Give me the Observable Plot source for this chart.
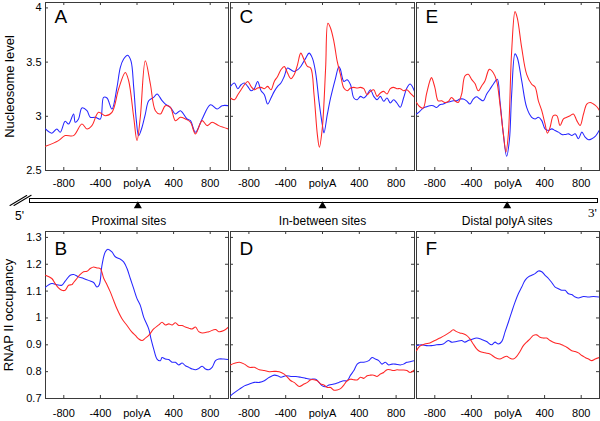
<!DOCTYPE html>
<html><head><meta charset="utf-8">
<script src="https://cdn.jsdelivr.net/npm/d3@7"></script>
<script src="https://cdn.jsdelivr.net/npm/@observablehq/plot@0.6"></script>
<style>
html,body{margin:0;padding:0;background:#fff;}
#fig{position:relative;width:600px;height:421px;overflow:hidden;background:#fff;}
#fig svg{position:absolute;overflow:visible;}
</style></head><body><div id="fig"></div>
<script>
// ---------- tick labels / categories ----------
const xTicks = [-800, -400, 0, 400, 800];
const nucTicks = [2.5, 3, 3.5, 4];
const rnapTicks = [0.7, 0.8, 0.9, 1, 1.1, 1.2, 1.3];
const topLetters = ["A", "C", "E"];
const bottomLetters = ["B", "D", "F"];
const sites = ["Proximal sites", "In-between sites", "Distal polyA sites"];
const nucLabel = "Nucleosome level";
const rnapLabel = "RNAP II occupancy";

// ---------- nucleosome level (top row), [position bp, value] ----------
const nucProximalBlue = [[-1000,2.883],[-931,2.844],[-876,2.883],[-839,2.853],[-785,2.954],[-748,2.929],[-693,3.021],[-675,2.945],[-639,2.975],[-602,3.077],[-547,3.052],[-511,2.991],[-456,2.991],[-401,2.975],[-365,3.175],[-328,3.169],[-274,3.067],[-219,3.267],[-182,3.451],[-146,3.528],[-102,3.564],[-66,3.512],[-36,3.267],[-7,2.96],[18,2.822],[55,2.899],[91,3.021],[128,3.144],[182,3.175],[219,3.206],[274,3.144],[310,3.113],[365,3.083],[420,3.021],[474,3.052],[547,2.975],[584,2.96],[639,2.853],[712,2.975],[803,3.107],[876,3.067],[931,3.098],[1000,3.098]];
const nucProximalRed = [[-1000,2.724],[-858,2.776],[-785,2.822],[-693,2.822],[-602,2.929],[-547,2.883],[-493,2.914],[-420,3.037],[-347,3.006],[-274,3.037],[-201,3.252],[-128,3.405],[-91,3.328],[-36,2.991],[0,2.776],[36,2.991],[91,3.512],[146,3.298],[201,3.052],[255,3.021],[310,3.098],[365,3.083],[420,2.96],[474,2.991],[529,2.975],[584,2.945],[639,2.837],[712,2.96],[766,2.914],[821,2.945],[894,2.914],[1000,2.883]];
const nucBetweenBlue = [[-1000,3.276],[-957,3.307],[-921,3.255],[-885,3.291],[-849,3.307],[-813,3.276],[-777,3.236],[-741,3.255],[-705,3.322],[-668,3.236],[-632,3.199],[-596,3.113],[-560,3.169],[-524,3.23],[-488,3.276],[-452,3.307],[-416,3.368],[-380,3.445],[-344,3.429],[-308,3.414],[-272,3.429],[-236,3.46],[-182,3.537],[-146,3.583],[-110,3.537],[-74,3.399],[-38,3.138],[-2,2.923],[16,2.847],[52,3.015],[88,3.169],[142,3.353],[178,3.46],[196,3.429],[232,3.322],[268,3.337],[305,3.291],[341,3.169],[377,3.153],[413,3.184],[449,3.169],[485,3.199],[521,3.245],[557,3.184],[593,3.153],[629,3.184],[665,3.138],[701,3.169],[737,3.123],[773,3.153],[809,3.123],[845,3.083],[881,3.169],[917,3.261],[953,3.298],[1000,3.23]];
const nucBetweenRed = [[-1000,3.169],[-957,3.153],[-921,3.199],[-885,3.245],[-849,3.291],[-813,3.322],[-777,3.276],[-741,3.245],[-705,3.261],[-668,3.267],[-632,3.255],[-596,3.276],[-560,3.245],[-524,3.322],[-488,3.368],[-452,3.429],[-416,3.46],[-380,3.399],[-344,3.347],[-308,3.383],[-272,3.475],[-236,3.583],[-200,3.521],[-164,3.46],[-128,3.445],[-92,3.199],[-56,2.831],[-34,2.715],[-2,2.893],[34,3.445],[59,3.859],[88,3.813],[124,3.69],[160,3.506],[196,3.383],[232,3.261],[268,3.236],[305,3.261],[341,3.267],[377,3.261],[413,3.267],[449,3.255],[485,3.199],[521,3.23],[557,3.245],[593,3.184],[629,3.215],[665,3.23],[701,3.206],[737,3.255],[773,3.267],[809,3.255],[845,3.255],[881,3.236],[917,3.245],[953,3.215],[1000,3.175]];
const nucDistalBlue = [[-1000,3.021],[-964,3.046],[-927,3.076],[-891,3.088],[-854,3.098],[-818,3.098],[-781,3.082],[-745,3.107],[-708,3.113],[-672,3.128],[-635,3.134],[-599,3.143],[-562,3.143],[-526,3.159],[-489,3.159],[-453,3.143],[-416,3.113],[-380,3.159],[-343,3.18],[-307,3.159],[-270,3.143],[-234,3.204],[-197,3.25],[-161,3.296],[-117,3.341],[-88,3.143],[-51,2.838],[-15,2.631],[15,2.777],[40,3.204],[77,3.576],[102,3.54],[150,3.326],[204,3.082],[259,2.991],[296,2.976],[332,2.991],[369,2.96],[405,2.884],[442,2.869],[478,2.884],[515,2.869],[551,2.854],[588,2.832],[624,2.832],[661,2.838],[697,2.823],[734,2.838],[770,2.793],[807,2.854],[843,2.808],[880,2.784],[916,2.793],[953,2.814],[1000,2.875]];
const nucDistalRed = [[-1000,3.128],[-964,3.088],[-927,3.076],[-891,3.204],[-854,3.326],[-836,3.357],[-799,3.265],[-763,3.143],[-726,3.143],[-690,3.128],[-653,3.137],[-617,3.174],[-580,3.143],[-544,3.128],[-507,3.204],[-471,3.372],[-434,3.387],[-398,3.341],[-361,3.302],[-325,3.235],[-288,3.28],[-252,3.326],[-204,3.433],[-161,3.402],[-124,3.326],[-88,3.113],[-51,2.838],[-22,2.671],[4,2.838],[40,3.601],[77,3.966],[102,3.905],[150,3.631],[204,3.387],[259,3.296],[296,3.271],[332,3.143],[369,3.052],[405,2.93],[431,2.845],[460,2.899],[496,3.006],[533,3.006],[569,2.915],[606,2.976],[642,2.991],[679,3.006],[715,3.021],[752,2.96],[788,2.915],[825,3.021],[861,3.113],[898,3.128],[934,3.113],[971,3.088],[1000,3.052]];

// ---------- RNAP II occupancy (bottom row) ----------
const rnapProximalBlue = [[-1000,1.115],[-931,1.128],[-876,1.124],[-821,1.122],[-785,1.137],[-730,1.159],[-693,1.162],[-639,1.153],[-584,1.147],[-529,1.14],[-474,1.132],[-438,1.115],[-412,1.124],[-383,1.196],[-347,1.246],[-318,1.256],[-274,1.246],[-237,1.228],[-182,1.219],[-146,1.209],[-109,1.184],[-73,1.147],[-36,1.109],[0,1.072],[36,1.047],[73,1.003],[128,0.959],[153,0.922],[182,0.885],[219,0.847],[255,0.841],[274,0.853],[310,0.847],[347,0.845],[383,0.835],[420,0.835],[456,0.825],[493,0.832],[529,0.822],[566,0.816],[602,0.81],[639,0.807],[675,0.812],[712,0.82],[748,0.81],[785,0.807],[821,0.816],[858,0.841],[894,0.847],[949,0.847],[1000,0.845]];
const rnapProximalRed = [[-1000,1.159],[-931,1.147],[-894,1.128],[-858,1.112],[-821,1.103],[-785,1.103],[-748,1.122],[-712,1.124],[-693,1.132],[-657,1.147],[-620,1.162],[-584,1.172],[-547,1.174],[-511,1.184],[-474,1.19],[-438,1.186],[-401,1.184],[-365,1.149],[-328,1.124],[-292,1.097],[-255,1.065],[-219,1.034],[-164,0.997],[-109,0.972],[-55,0.947],[-18,0.935],[18,0.922],[55,0.916],[91,0.925],[128,0.935],[182,0.959],[237,0.974],[274,0.984],[310,0.974],[347,0.978],[383,0.974],[420,0.982],[456,0.972],[493,0.972],[529,0.966],[566,0.962],[602,0.959],[639,0.966],[675,0.949],[712,0.944],[785,0.949],[858,0.957],[894,0.949],[949,0.953],[1000,0.966]];
const rnapBetweenBlue = [[-1000,0.71],[-957,0.722],[-903,0.735],[-849,0.747],[-795,0.754],[-741,0.76],[-686,0.76],[-632,0.766],[-578,0.779],[-524,0.787],[-488,0.785],[-452,0.779],[-398,0.785],[-344,0.782],[-290,0.782],[-236,0.779],[-182,0.775],[-128,0.772],[-74,0.772],[-38,0.76],[-2,0.747],[34,0.744],[70,0.75],[124,0.754],[178,0.76],[232,0.766],[268,0.766],[305,0.787],[341,0.804],[377,0.828],[413,0.835],[449,0.835],[503,0.841],[539,0.853],[575,0.847],[611,0.841],[647,0.828],[683,0.835],[719,0.825],[755,0.828],[791,0.828],[845,0.825],[881,0.828],[917,0.835],[953,0.837],[1000,0.841]];
const rnapBetweenRed = [[-1000,0.825],[-957,0.831],[-903,0.835],[-849,0.828],[-795,0.816],[-741,0.816],[-686,0.807],[-632,0.804],[-578,0.8],[-524,0.801],[-470,0.8],[-416,0.791],[-380,0.779],[-344,0.766],[-308,0.76],[-254,0.745],[-200,0.754],[-164,0.76],[-128,0.77],[-92,0.77],[-56,0.766],[-20,0.754],[16,0.75],[52,0.741],[88,0.741],[124,0.731],[160,0.732],[196,0.737],[232,0.75],[268,0.766],[305,0.772],[341,0.77],[377,0.769],[413,0.779],[449,0.775],[485,0.785],[521,0.787],[557,0.787],[593,0.782],[629,0.791],[665,0.797],[701,0.807],[737,0.807],[773,0.804],[809,0.807],[845,0.806],[881,0.806],[917,0.804],[953,0.797],[1000,0.807]];
const rnapDistalBlue = [[-1000,0.897],[-945,0.9],[-891,0.897],[-836,0.897],[-781,0.9],[-708,0.903],[-653,0.916],[-617,0.91],[-562,0.912],[-507,0.916],[-471,0.91],[-434,0.916],[-398,0.92],[-343,0.925],[-288,0.92],[-234,0.912],[-179,0.9],[-142,0.91],[-106,0.903],[-69,0.912],[-33,0.947],[4,0.984],[40,1.022],[77,1.059],[113,1.09],[150,1.115],[186,1.14],[223,1.153],[259,1.159],[296,1.165],[332,1.175],[369,1.172],[405,1.159],[442,1.147],[478,1.132],[515,1.115],[551,1.109],[588,1.103],[624,1.103],[661,1.09],[697,1.087],[734,1.078],[770,1.074],[825,1.08],[880,1.078],[934,1.08],[1000,1.078]];
const rnapDistalRed = [[-1000,0.878],[-964,0.895],[-909,0.903],[-854,0.907],[-799,0.916],[-745,0.925],[-690,0.935],[-635,0.947],[-599,0.956],[-562,0.949],[-526,0.944],[-489,0.941],[-453,0.935],[-416,0.922],[-380,0.903],[-343,0.885],[-307,0.875],[-252,0.87],[-197,0.866],[-142,0.853],[-88,0.847],[-51,0.853],[-15,0.857],[22,0.85],[58,0.847],[95,0.857],[131,0.875],[168,0.897],[204,0.91],[241,0.922],[277,0.935],[314,0.937],[350,0.928],[387,0.925],[423,0.925],[460,0.916],[515,0.907],[569,0.903],[606,0.897],[642,0.891],[697,0.878],[734,0.875],[770,0.87],[807,0.86],[843,0.853],[880,0.847],[916,0.841],[953,0.847],[1000,0.853]];

// ---------- layout & style ----------
const FONT = '"Liberation Sans", Arial, Helvetica, sans-serif';
const BLUE = "#2626ff", RED = "#ff2626", FRAME = "#3a3a3a";
const xDomain = [-1000, 1000];
const cols = [{left: 45, right: 228}, {left: 230, right: 414}, {left: 416, right: 599}];
const rows = [
  {top: 2, bottom: 170, domain: [2.5, 4.05], ticks: nucTicks, label: nucLabel, letters: topLetters, tickPad: 9, letterDy: 7, labelDx: -36,
   series: [[nucProximalBlue, nucProximalRed], [nucBetweenBlue, nucBetweenRed], [nucDistalBlue, nucDistalRed]]},
  {top: 231, bottom: 398, domain: [0.7, 1.322], ticks: rnapTicks, label: rnapLabel, letters: bottomLetters, tickPad: 11, letterDy: 10, labelDx: -37,
   series: [[rnapProximalBlue, rnapProximalRed], [rnapBetweenBlue, rnapBetweenRed], [rnapDistalBlue, rnapDistalRed]]}
];
const fmtX = d => d === 0 ? "polyA" : String(d);
const fmtY = d => String(d);
const fig = document.getElementById("fig");
const ml = 45, mr = 2, mt = 2, mb = 24;

function place(svg, left, top) {
  svg.style.left = left + "px";
  svg.style.top = top + "px";
  fig.appendChild(svg);
}

rows.forEach(row => {
  cols.forEach((col, ci) => {
    const W = col.right - col.left, H = row.bottom - row.top;
    const [blue, red] = row.series[ci];
    const marks = [
      Plot.frame({stroke: FRAME, strokeWidth: 1}),
      Plot.tickX(xTicks, {x: d => d, insetTop: H - 3, stroke: FRAME}),
      Plot.tickX(xTicks, {x: d => d, insetBottom: H - 3, stroke: FRAME}),
      Plot.tickY(row.ticks, {y: d => d, insetRight: W - 3, stroke: FRAME}),
      Plot.tickY(row.ticks, {y: d => d, insetLeft: W - 3, stroke: FRAME}),
      Plot.line(blue, {x: d => d[0], y: d => d[1], stroke: BLUE, strokeWidth: 1.05, curve: "catmull-rom", clip: true}),
      Plot.line(red, {x: d => d[0], y: d => d[1], stroke: RED, strokeWidth: 1.05, curve: "catmull-rom", clip: true}),
      Plot.axisX({ticks: xTicks, tickSize: 0, tickPadding: row.tickPad, tickFormat: fmtX, label: null, fill: "#000"}),
      Plot.text([row.letters[ci]], {frameAnchor: "top-left", dx: 9, dy: row.letterDy, textAnchor: "start", lineAnchor: "top", fontSize: 19, fill: "#000"})
    ];
    if (ci === 0) {
      marks.push(Plot.axisY({ticks: row.ticks, tickSize: 0, tickPadding: 4, tickFormat: fmtY, label: null, fill: "#000"}));
      marks.push(Plot.text([row.label], {frameAnchor: "left", rotate: -90, dx: row.labelDx, textAnchor: "middle", lineAnchor: "middle", fontSize: 13, fill: "#000"}));
    }
    const svg = Plot.plot({
      width: ml + W + mr, height: mt + H + mb,
      marginLeft: ml, marginRight: mr, marginTop: mt, marginBottom: mb,
      x: {domain: xDomain, axis: null},
      y: {domain: row.domain, axis: null},
      style: {fontFamily: FONT, fontSize: "11px", background: "transparent", color: "#000", overflow: "visible"},
      marks
    });
    place(svg, col.left - ml, row.top - mt);
  });
});

// ---------- gene schematic between rows ----------
const geneTop = 185;
const gene = Plot.plot({
  width: 600, height: 50,
  marginLeft: 45, marginRight: 1, marginTop: 13, marginBottom: 33,
  x: {domain: [-1000, 5000], axis: null},
  y: {axis: null},
  style: {fontFamily: FONT, fontSize: "12px", background: "transparent", color: "#000", overflow: "visible"},
  marks: [
    Plot.frame({fill: "white", stroke: "#000", strokeWidth: 1, insetLeft: -16, insetRight: 2}),
    Plot.vector([0], {frameAnchor: "bottom-left", dx: -35.5, dy: 3, length: 19.5, rotate: 59, anchor: "start", r: 0, stroke: "#000", strokeWidth: 1}),
    Plot.vector([0], {frameAnchor: "bottom-left", dx: -31.5, dy: 3, length: 20, rotate: 59, anchor: "start", r: 0, stroke: "#000", strokeWidth: 1}),
    Plot.dot(sites, {x: (d, i) => i * 2000, frameAnchor: "bottom", dy: 3.5, symbol: "triangle", r: 3, fill: "#000", stroke: null}),
    ...sites.map((s, i) => Plot.text([s], {x: i * 2000, frameAnchor: "bottom", dy: 18.5, dx: i === 0 ? -9 : 0, textAnchor: "middle", lineAnchor: "middle", fontSize: 12, fill: "#000"})),
    Plot.text(["5'"], {frameAnchor: "bottom-left", dx: -26, dy: 13.5, textAnchor: "middle", lineAnchor: "middle", fontSize: 12, fill: "#000"}),
    Plot.text(["3'"], {frameAnchor: "bottom-right", dx: -7, dy: 10.5, textAnchor: "middle", lineAnchor: "middle", fontSize: 13, fontFamily: '"Liberation Serif", "Times New Roman", serif', fill: "#000"})
  ]
});
place(gene, 0, geneTop);
</script></body></html>
